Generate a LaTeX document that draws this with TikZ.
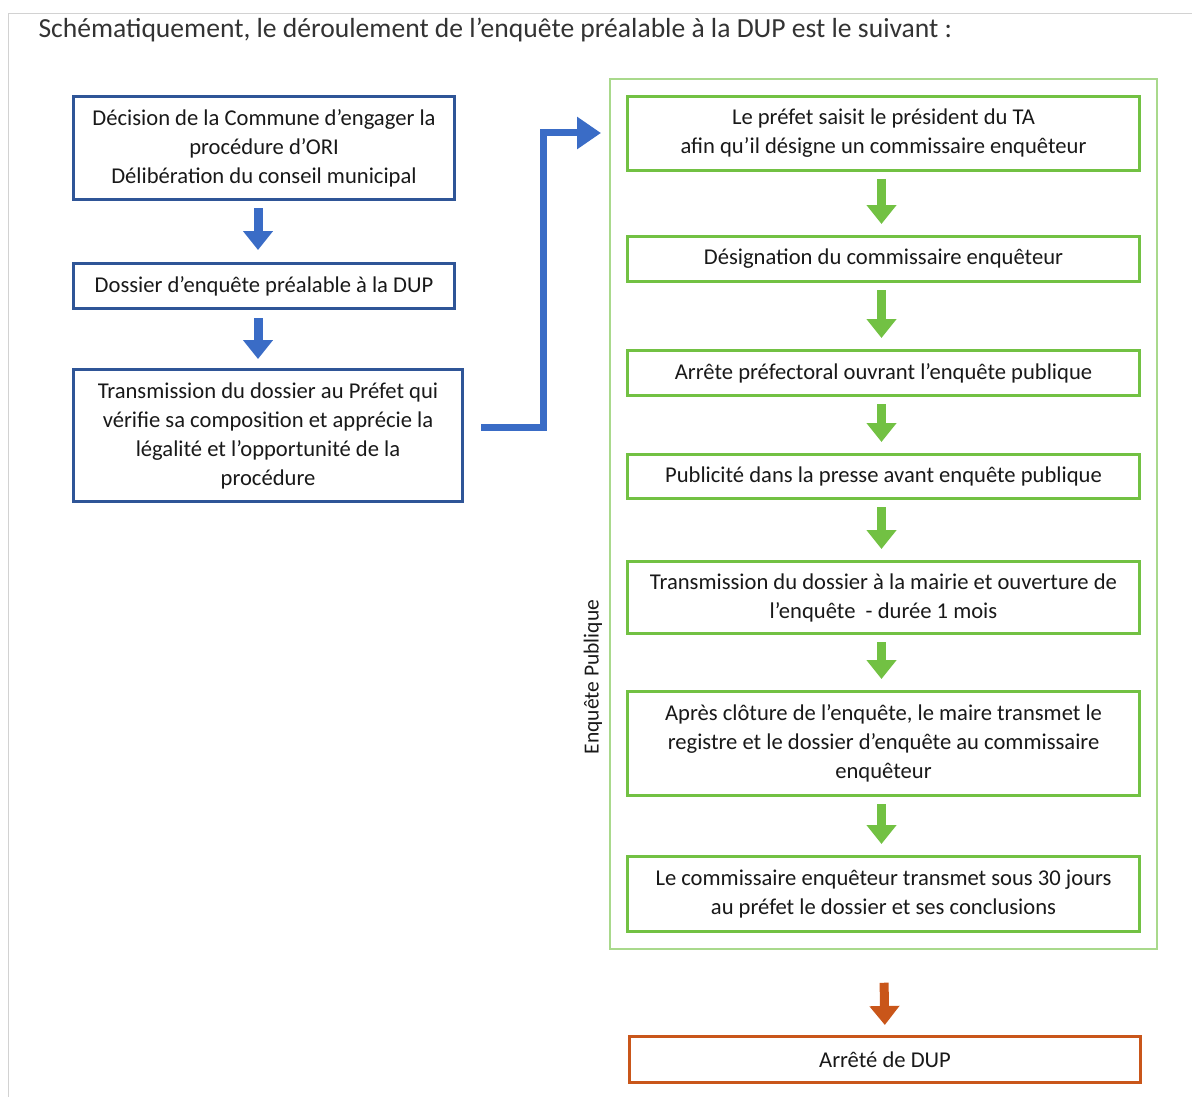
\documentclass[tikz,border=0pt]{standalone}
\usepackage{fontspec}
\setmainfont{Carlito}
\usepackage{tikz}
\usetikzlibrary{positioning,arrows.meta,calc,fit}
\definecolor{bleu}{HTML}{2F5597}
\definecolor{bleuclair}{HTML}{3A6CC6}
\definecolor{vert}{HTML}{72C143}
\definecolor{vertclair}{HTML}{A9D98C}
\definecolor{orangedup}{HTML}{C9561A}

\begin{document}
\begin{tikzpicture}[
    x=1pt, y=-1pt,
    bluebox/.style={draw=bleu, line width=3pt, fill=white, align=center, text=black!90,
      font=\fontsize{22.6}{29}\selectfont, inner sep=0pt},
    greenbox/.style={draw=vert, line width=3pt, fill=white, align=center, text=black!90,
      font=\fontsize{22.6}{29}\selectfont, inner sep=0pt, minimum width=512pt},
    dupbox/.style={draw=orangedup, line width=3pt, fill=white, align=center, text=black!90,
      font=\fontsize{22.6}{29}\selectfont, inner sep=0pt, minimum width=511pt, minimum height=46pt},
    blockarr/.style={-{Triangle[length=19pt, width=29pt]}, line width=9pt},
    bluearr/.style={blockarr, bleuclair},
    greenarr/.style={blockarr, vert},
    orarr/.style={blockarr, orangedup},
    bluelink/.style={-{Triangle[length=24pt, width=31pt]}, line width=7pt, bleuclair}
  ]
    \useasboundingbox (0,0) rectangle (1192,1097);
    \draw[gray!35, line width=1pt] (1192,14) -- (8,14) -- (8,1097);

    \node[anchor=west, text=black!80, font=\fontsize{27.6}{32}\selectfont] (titre) at (35,30)
      {Schématiquement, le déroulement de l’enquête préalable à la DUP est le suivant :};

    % colonne de gauche
    \node[bluebox, minimum width=381pt, minimum height=103pt] (b1) at (264,148)
      {Décision de la Commune d’engager la\\ procédure d’ORI\\ Délibération du conseil municipal};
    \node[bluebox, minimum width=381pt, minimum height=45pt] (b2) at (264,286)
      {Dossier d’enquête préalable à la DUP};
    \node[bluebox, minimum width=389pt, minimum height=132pt] (b3) at (268,435.5)
      {Transmission du dossier au Préfet qui\\ vérifie sa composition et apprécie la\\
       légalité et l’opportunité de la\\ procédure};

    \draw[bluearr, shorten <=7pt, shorten >=12pt] ([xshift=-6pt]b1.south) -- ([xshift=-6pt]b1.south |- b2.north);
    \draw[bluearr, shorten <=8pt, shorten >=9pt] ([xshift=-6pt]b2.south) -- ([xshift=-6pt]b2.south |- b3.north);

    % enquete publique
    \node[greenbox, minimum height=74pt] (g1) at (883.5,133.5)
      {Le préfet saisit le président du TA\\ afin qu’il désigne un commissaire enquêteur};
    \node[greenbox, minimum height=45pt] (g2) at (883.5,259)
      {Désignation du commissaire enquêteur};
    \node[greenbox, minimum height=45pt] (g3) at (883.5,373)
      {Arrête préfectoral ouvrant l’enquête publique};
    \node[greenbox, minimum height=44pt] (g4) at (883.5,476.5)
      {Publicité dans la presse avant enquête publique};
    \node[greenbox, minimum height=72pt] (g5) at (883.5,597.5)
      {Transmission du dossier à la mairie et ouverture de\\ l’enquête~~- durée 1 mois};
    \node[greenbox, minimum height=104pt] (g6) at (883.5,743.5)
      {Après clôture de l’enquête, le maire transmet le\\ registre et le dossier d’enquête au commissaire\\ enquêteur};
    \node[greenbox, minimum height=75pt] (g7) at (883.5,894)
      {Le commissaire enquêteur transmet sous 30 jours\\ au préfet le dossier et ses conclusions};

    \foreach \a/\b in {g1/g2,g2/g3,g3/g4,g4/g5,g5/g6,g6/g7}
      \draw[greenarr, shorten <=7pt, shorten >=11pt] ([xshift=-2pt]\a.south) -- ([xshift=-2pt]\b.north);

    \node[draw=vertclair, line width=1.5pt, inner xsep=16pt, inner ysep=16pt,
      fit=(g1)(g7)] (enquete) {};
    \node[rotate=90, text=black!90, font=\fontsize{21.5}{24}\selectfont] (etiq) at (593,677)
      {Enquête Publique};

    \coordinate (cible) at (601,133);
    \draw[bluelink] ([xshift=17pt, yshift=8.5pt]b3.east) -- ++(62,0) |- (cible);

    % resultat
    \node[dupbox] (dup) at (885,1059.5) {Arrêté de DUP};
    \draw[orarr, shorten <=33pt, shorten >=10pt] (enquete.south) -- (dup.north);
\end{tikzpicture}
\end{document}
